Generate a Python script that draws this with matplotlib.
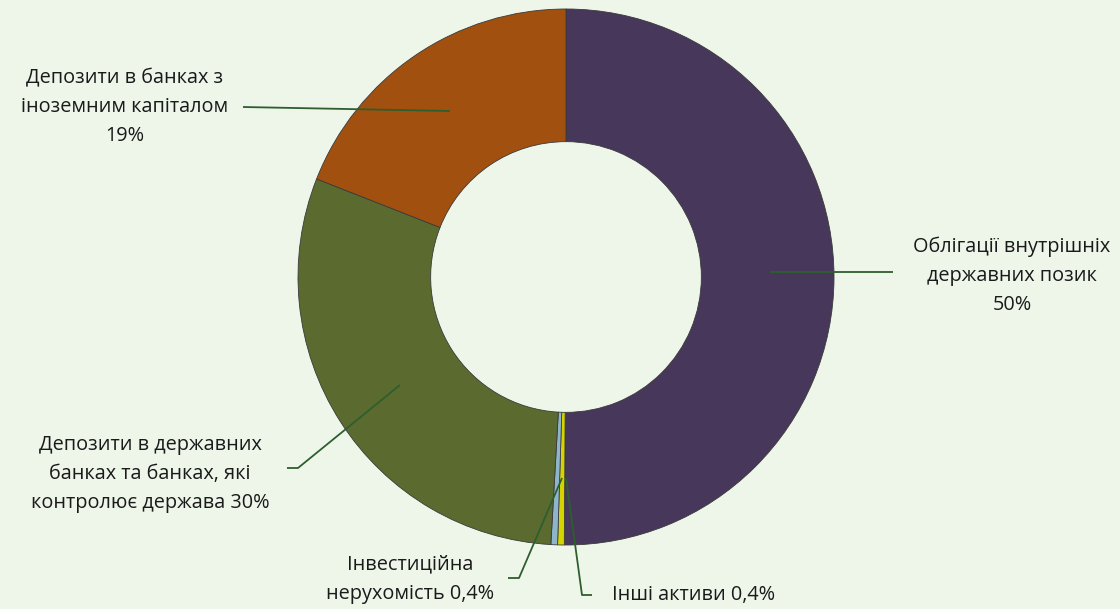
import matplotlib
matplotlib.use("Agg")
import matplotlib.pyplot as plt

plt.rcParams['font.family'] = ['Open Sans', 'DejaVu Sans']

categories = ["Облігації внутрішніх державних позик", "Інші активи",
              "Інвестиційна нерухомість", "Депозити в державних банках та банках, які контролює держава",
              "Депозити в банках з іноземним капіталом"]
values = [50, 0.4, 0.4, 30, 19]
labels = ["Облігації внутрішніх\nдержавних позик\n50%",
          "Інші активи 0,4%",
          "Інвестиційна\nнерухомість 0,4%",
          "Депозити в державних\nбанках та банках, які\nконтролює держава 30%",
          "Депозити в банках з\nіноземним капіталом\n19%"]
colors = ["#47375A", "#D6D400", "#8DB5CB", "#5B6B2F", "#A1500F"]

W, H = 1120, 609
fig = plt.figure(figsize=(W / 100, H / 100), dpi=100)
fig.patch.set_facecolor("#EEF6EA")
ax = fig.add_axes([0, 0, 1, 1])

cx, cy, R = 566, H - 277, 268
wedges, _ = ax.pie(values, colors=colors, startangle=90, counterclock=False,
                   center=(cx, cy), radius=R, frame=True,
                   wedgeprops=dict(width=R * 0.495, edgecolor="#3a3a3a", linewidth=0.6))
ax.set_xlim(0, W)
ax.set_ylim(0, H)
ax.set_facecolor("#EEF6EA")
ax.axis("off")

line_c = "#2E5E2E"
fs = 14.3
ls = 1.6
tc = "#1a1a1a"
def Y(y):
    return H - y

# leader lines (pixel coords from top)
leaders = [
    [(770, 272), (893, 272)],
    [(566, 478), (582, 595), (592, 595)],
    [(562, 478), (519, 578), (508, 578)],
    [(400, 385), (298, 468), (287, 468)],
    [(450, 111), (243, 107)],
]
for pts in leaders:
    ax.plot([p[0] for p in pts], [Y(p[1]) for p in pts], color=line_c, lw=1.3,
            solid_capstyle="butt")

ax.text(1012, Y(276), labels[0], ha="center", va="center", fontsize=fs,
        linespacing=ls, color=tc)
ax.text(612, Y(595), labels[1], ha="left", va="center", fontsize=fs, color=tc)
ax.text(410, Y(579), labels[2], ha="center", va="center", fontsize=fs,
        linespacing=ls, color=tc)
ax.text(150, Y(474), labels[3], ha="center", va="center", fontsize=fs,
        linespacing=ls, color=tc)
ax.text(125, Y(107), labels[4], ha="center", va="center", fontsize=fs,
        linespacing=ls, color=tc)

fig.savefig("out.png", dpi=100, facecolor=fig.get_facecolor())
